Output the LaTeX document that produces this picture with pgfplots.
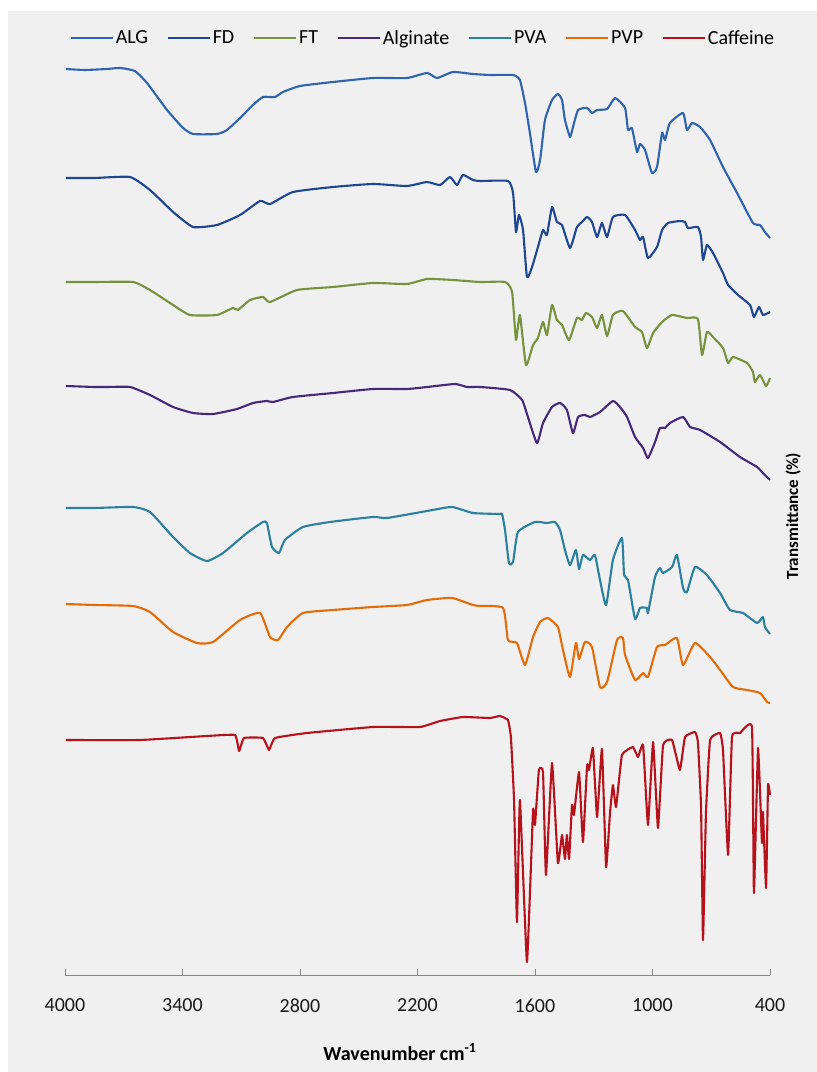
\documentclass[border=0pt]{standalone}
\usepackage{pgfplots}
\pgfplotsset{compat=1.18}
\usepackage{fontspec}
\setmainfont{Carlito}
\definecolor{bggray}{HTML}{F0F0F0}
\definecolor{axgray}{HTML}{868686}
\definecolor{cALG}{HTML}{2E64AD}
\definecolor{cFD}{HTML}{1F4690}
\definecolor{cFT}{HTML}{76923C}
\definecolor{cALGN}{HTML}{47277A}
\definecolor{cPVA}{HTML}{2B80A0}
\definecolor{cPVP}{HTML}{E36C09}
\definecolor{cCAF}{HTML}{B5121B}
\begin{document}
\begin{tikzpicture}
\useasboundingbox (-65pt,-97pt) rectangle (752pt,975pt);
\fill[white] (-65pt,-97pt) rectangle (752pt,975pt);
\fill[bggray] (-57pt,-97pt) rectangle (752pt,964pt);
\begin{axis}[
  at={(0pt,0pt)}, anchor=south west,
  scale only axis, width=705pt, height=925pt,
  xmin=400, xmax=4000, x dir=reverse,
  ymin=25, ymax=950,
  axis x line*=bottom, axis y line=none,
  x axis line style={-, draw=axgray, line width=0.9pt},
  xtick={4000,3400,2800,2200,1600,1000,400},
  xticklabels={4000,3400,2800,2200,1600,1000,400},
  tick align=inside, major tick length=6pt,
  xtick style={draw=axgray, line width=0.9pt},
  xticklabel style={font=\fontsize{20}{24}\selectfont, text=black!90, yshift=-20pt},
  clip=false,
  every axis plot/.append style={line width=2.1pt, smooth, tension=0.3, line join=round},
  legend columns=7,
  legend style={at={(axis description cs:0.508,1.013)}, anchor=center, draw=none, fill=none,
    font=\fontsize{20}{24}\selectfont, inner sep=0pt,
    /tikz/every even column/.append style={column sep=17pt}},
  legend image code/.code={\draw[#1, line width=1.8pt, sharp plot] (0pt,0pt) -- (42pt,0pt);},
]
\addplot[cALG] coordinates {
(3995,931) (3900,930) (3786,931) (3719,932) (3643,929) (3581,917) (3479,890) (3397,872) (3346,866) (3224,866) (3173,870) (3106,882) (3040,895) (2989,903) (2928,903) (2887,908) (2800,914) (2631,918) (2427,922) (2254,922) (2151,927) (2100,922) (2019,928) (1917,926) (1830,925) (1712,925) (1677,920) (1651,897) (1626,867) (1595,828) (1574,840) (1549,880) (1513,900) (1483,906) (1462,900) (1447,880) (1421,863) (1406,873) (1380,890) (1334,892) (1309,887) (1283,890) (1232,891) (1191,902) (1140,892) (1125,870) (1105,872) (1079,848) (1064,856) (1038,850) (1003,827) (977,833) (951,867) (936,860) (911,877) (844,887) (824,870) (798,877) (757,873) (706,860) (640,833) (568,807) (487,777) (451,775) (426,768) (400,762)};
\addlegendentry{ALG}
\addplot[cFD] coordinates {
(3995,822) (3850,822) (3668,823) (3566,810) (3448,788) (3346,773) (3224,775) (3106,785) (3004,799) (2953,796) (2836,808) (2631,813) (2427,816) (2254,814) (2151,818) (2085,815) (2034,823) (1998,815) (1968,825) (1917,820) (1881,819) (1738,819) (1712,807) (1697,768) (1682,785) (1661,770) (1641,723) (1615,733) (1585,753) (1559,770) (1539,765) (1513,793) (1488,778) (1462,775) (1421,752) (1386,773) (1360,778) (1334,783) (1309,778) (1283,763) (1258,777) (1232,763) (1202,783) (1140,785) (1089,770) (1064,760) (1048,763) (1023,742) (977,753) (951,770) (921,777) (860,779) (834,778) (819,772) (768,773) (752,763) (742,740) (722,755) (691,747) (640,727) (614,715) (563,705) (502,695) (482,683) (456,693) (436,685) (400,688)};
\addlegendentry{FD}
\addplot[cFT] coordinates {
(3995,718) (3850,718) (3653,718) (3566,710) (3448,695) (3362,685) (3224,685) (3142,692) (3117,690) (3055,700) (2989,703) (2953,698) (2815,710) (2631,713) (2427,717) (2254,716) (2151,721) (2019,720) (1881,718) (1753,718) (1717,708) (1697,660) (1677,685) (1646,635) (1610,655) (1585,662) (1559,678) (1539,665) (1513,695) (1488,680) (1462,675) (1426,660) (1386,682) (1360,680) (1340,687) (1309,683) (1283,672) (1258,685) (1232,664) (1202,685) (1151,689) (1089,673) (1054,668) (1028,652) (997,667) (951,678) (900,685) (824,682) (768,681) (747,645) (722,668) (691,663) (640,652) (614,637) (589,643) (517,637) (487,628) (477,618) (451,625) (420,614) (400,622)};
\addlegendentry{FT}
\addplot[cALGN] coordinates {
(3995,614) (3850,613) (3786,613) (3668,613) (3566,605) (3448,593) (3346,587) (3244,586) (3122,591) (3040,597) (2969,599) (2938,598) (2836,603) (2631,607) (2427,611) (2254,611) (2151,613) (2008,616) (1947,613) (1881,613) (1728,610) (1666,600) (1636,583) (1590,557) (1559,577) (1513,593) (1472,597) (1437,590) (1406,567) (1380,583) (1345,585) (1319,583) (1268,588) (1202,599) (1166,593) (1130,583) (1089,563) (1048,552) (1023,542) (987,558) (962,572) (936,572) (911,577) (844,583) (808,573) (757,570) (655,558) (553,543) (466,533) (436,527) (400,520)};
\addlegendentry{Alginate}
\addplot[cPVA] coordinates {
(3995,492) (3850,492) (3653,493) (3566,488) (3448,463) (3362,447) (3275,439) (3193,447) (3071,467) (2989,478) (2969,477) (2943,453) (2907,447) (2877,460) (2785,473) (2647,478) (2427,483) (2356,482) (2151,489) (2024,493) (1917,487) (1779,486) (1768,486) (1753,470) (1733,437) (1712,438) (1687,468) (1600,478) (1539,477) (1498,478) (1472,470) (1447,450) (1421,435) (1391,450) (1375,431) (1355,445) (1319,440) (1294,445) (1268,420) (1237,395) (1202,440) (1156,462) (1145,425) (1125,420) (1089,381) (1064,392) (1028,392) (1023,387) (987,423) (962,432) (946,427) (900,433) (875,445) (844,412) (824,408) (783,433) (722,425) (655,407) (604,390) (538,387) (466,377) (436,383) (426,373) (400,366)};
\addlegendentry{PVA}
\addplot[cPVP] coordinates {
(3995,396) (3850,395) (3653,394) (3566,388) (3448,368) (3326,357) (3244,358) (3106,380) (3004,387) (2953,363) (2912,360) (2866,373) (2785,387) (2631,390) (2427,393) (2254,395) (2151,400) (2024,402) (1917,395) (1881,394) (1763,392) (1738,360) (1692,357) (1651,335) (1610,363) (1574,378) (1534,382) (1483,373) (1457,350) (1421,323) (1391,357) (1375,341) (1345,358) (1309,353) (1268,313) (1232,318) (1181,360) (1151,362) (1140,345) (1089,320) (1048,327) (1023,323) (977,353) (936,355) (875,362) (844,335) (783,357) (706,343) (655,330) (589,313) (517,310) (451,307) (415,298) (400,297)};
\addlegendentry{PVP}
\addplot[cCAF, tension=0.2] coordinates {
(3995,260) (3617,260) (3275,264) (3132,265) (3111,249) (3086,262) (2989,262) (2958,250) (2928,262) (2764,267) (2427,273) (2187,273) (2085,279) (1968,283) (1830,282) (1779,284) (1738,280) (1723,263) (1707,200) (1692,78) (1677,200) (1641,38) (1610,190) (1600,175) (1580,230) (1559,228) (1544,125) (1513,237) (1483,137) (1462,165) (1447,141) (1437,165) (1426,141) (1411,195) (1401,185) (1375,228) (1355,158) (1334,235) (1324,230) (1304,252) (1283,183) (1258,251) (1237,133) (1217,187) (1202,215) (1186,193) (1156,245) (1100,253) (1074,243) (1048,255) (1023,175) (997,258) (972,172) (946,255) (900,260) (860,230) (834,263) (783,268) (768,258) (752,193) (742,60) (727,187) (706,260) (655,267) (640,250) (614,145) (594,263) (553,267) (492,273) (482,107) (461,252) (441,157) (436,188) (420,112) (410,215) (400,205)};
\addlegendentry{Caffeine}
\end{axis}
\node[font=\bfseries\fontsize{20}{24}\selectfont] at (335pt,-77pt) {Wavenumber cm\textsuperscript{-1}};
\node[rotate=90, font=\bfseries\fontsize{17}{20}\selectfont] at (728pt,459pt) {Transmittance (\%)};
\end{tikzpicture}
\end{document}
